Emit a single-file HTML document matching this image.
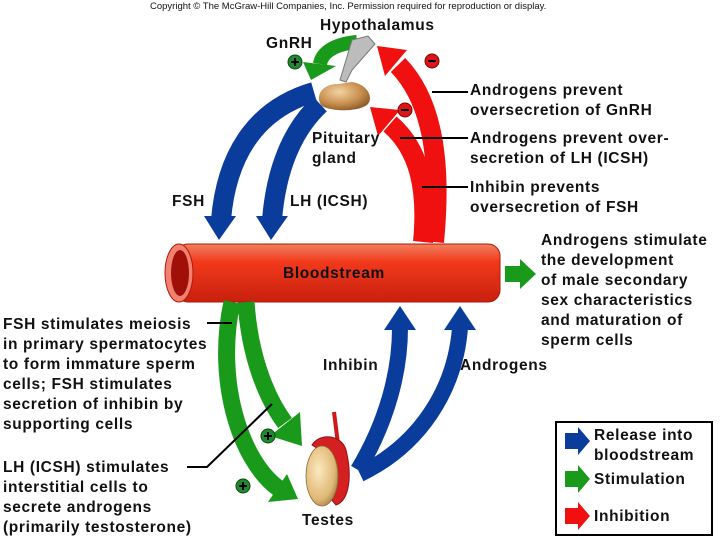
<!DOCTYPE html>
<html><head><meta charset="utf-8"><style>
html,body{margin:0;padding:0;background:#fff}
svg{display:block}
text{font-family:"Liberation Sans",Arial,sans-serif;font-weight:bold;font-size:15.5px;letter-spacing:0.65px;fill:#111}
</style></head><body>
<svg width="720" height="540" viewBox="0 0 720 540" xmlns="http://www.w3.org/2000/svg">
<defs>
<linearGradient id="bs" x1="0" y1="0" x2="0" y2="1">
<stop offset="0" stop-color="#f08060"/><stop offset="0.3" stop-color="#f23a1c"/><stop offset="1" stop-color="#c8200e"/>
</linearGradient>
<radialGradient id="pit" cx="0.4" cy="0.35" r="0.7">
<stop offset="0" stop-color="#f3d3a5"/><stop offset="0.6" stop-color="#c9904f"/><stop offset="1" stop-color="#8a5a2a"/>
</radialGradient>
<radialGradient id="tes" cx="0.4" cy="0.4" r="0.7">
<stop offset="0" stop-color="#fbeac0"/><stop offset="0.7" stop-color="#e0b876"/><stop offset="1" stop-color="#9c7440"/>
</radialGradient>
</defs>

<text x="150" y="9" style="font-weight:normal;font-size:9.5px;letter-spacing:0">Copyright © The McGraw-Hill Companies, Inc. Permission required for reproduction or display.</text>

<g fill="none" stroke="#f01010" stroke-width="20">
<path d="M434,242 C442,160 432,100 398,65"/>
<path d="M423,242 C428,190 420,150 390,124"/>
</g>
<polygon points="377,46 407,50 385,76" fill="#f01010"/>
<polygon points="370,107 400,110 378,136" fill="#f01010"/>

<path d="M357,42 C335,44 322,52 320,64" fill="none" stroke="#1a9a1a" stroke-width="14"/>
<polygon points="303,62 336,66 311,80" fill="#1a9a1a"/>

<path d="M352,40 L368,36 L375,44 L352,70 L346,82 L340,80 Z" fill="#bcbcbc" stroke="#777" stroke-width="1"/>
<path d="M338,84 C320,84 315,98 322,106 C332,112 360,112 368,104 C374,96 366,84 352,82 Z" fill="url(#pit)"/>

<g fill="none" stroke="#0a3c9c" stroke-width="20">
<path d="M314,92 C252,110 226,160 221,220"/>
<path d="M320,104 C292,130 276,170 272,220"/>
</g>
<polygon points="204,216 236,216 219,240" fill="#0a3c9c"/>
<polygon points="256,216 288,216 271,240" fill="#0a3c9c"/>

<rect x="176" y="244" width="324" height="58" rx="12" fill="url(#bs)" stroke="#b01808" stroke-width="1"/>
<ellipse cx="179" cy="273" rx="14" ry="29" fill="#f08070" stroke="#b01808"/>
<ellipse cx="180" cy="273" rx="9" ry="23" fill="#a01008"/>
<text x="283" y="278">Bloodstream</text>
<polygon points="505,266 520,266 520,259 536,274 520,289 520,282 505,282" fill="#1a9a1a"/>

<g fill="none" stroke="#1a9a1a" stroke-width="17">
<path d="M246,302 C250,360 268,400 285,423"/>
<path d="M232,302 C215,380 240,460 278,488"/>
</g>
<polygon points="300,412 270,436 302,446" fill="#1a9a1a"/>
<polygon points="287,474 268,502 298,499" fill="#1a9a1a"/>

<g fill="none" stroke="#0a3c9c" stroke-width="16">
<path d="M358,470 C388,420 400,370 400,328"/>
<path d="M360,474 C420,445 455,390 460,328"/>
</g>
<polygon points="384,330 416,330 400,306" fill="#0a3c9c"/>
<polygon points="444,330 476,330 460,306" fill="#0a3c9c"/>

<path d="M334,412 L340,460" stroke="#d01818" stroke-width="4"/>
<path d="M312,445 C320,432 342,435 346,450 C352,475 350,500 336,505 L330,498 C340,480 336,455 320,450 Z" fill="#d42020" stroke="#901010"/>
<ellipse cx="322" cy="476" rx="16" ry="30" fill="url(#tes)" stroke="#8a6a3a" stroke-width="0.8"/>

<g stroke="#0c4a0c" stroke-width="1">
<circle cx="295" cy="62" r="7" fill="#1f8a2f"/>
<circle cx="268" cy="436" r="7" fill="#1f8a2f"/>
<circle cx="243" cy="486" r="7" fill="#1f8a2f"/>
</g>
<g stroke="#000" stroke-width="2">
<path d="M291,62h8M295,58v8"/><path d="M264,436h8M268,432v8"/><path d="M239,486h8M243,482v8"/>
</g>
<circle cx="432" cy="61" r="7" fill="#d81818" stroke="#800"/>
<circle cx="405" cy="110" r="7" fill="#d81818" stroke="#800"/>
<path d="M428,61h8M401,110h8" stroke="#000" stroke-width="2"/>

<g stroke="#000" stroke-width="2" fill="none">
<path d="M432,92H468"/><path d="M400,138H468"/><path d="M422,187H468"/>
<path d="M207,323H232"/><path d="M187,467H207L272,404"/>
</g>

<text x="320" y="30">Hypothalamus</text>
<text x="266" y="48">GnRH</text>
<text x="312" y="143">Pituitary</text>
<text x="312" y="163">gland</text>
<text x="172" y="206">FSH</text>
<text x="290" y="206">LH (ICSH)</text>
<text x="470" y="95">Androgens prevent</text>
<text x="470" y="115">oversecretion of GnRH</text>
<text x="470" y="143">Androgens prevent over-</text>
<text x="470" y="163">secretion of LH (ICSH)</text>
<text x="470" y="192">Inhibin prevents</text>
<text x="470" y="212">oversecretion of FSH</text>

<text x="541" y="245">Androgens stimulate</text>
<text x="541" y="265">the development</text>
<text x="541" y="285">of male secondary</text>
<text x="541" y="305">sex characteristics</text>
<text x="541" y="325">and maturation of</text>
<text x="541" y="345">sperm cells</text>

<text x="323" y="370">Inhibin</text>
<text x="460" y="370">Androgens</text>
<text x="302" y="525">Testes</text>

<text x="3" y="329">FSH stimulates meiosis</text>
<text x="3" y="349">in primary spermatocytes</text>
<text x="3" y="369">to form immature sperm</text>
<text x="3" y="389">cells; FSH stimulates</text>
<text x="3" y="409">secretion of inhibin by</text>
<text x="3" y="429">supporting cells</text>
<text x="3" y="472">LH (ICSH) stimulates</text>
<text x="3" y="492">interstitial cells to</text>
<text x="3" y="512">secrete androgens</text>
<text x="3" y="532">(primarily testosterone)</text>

<rect x="556" y="422" width="156" height="113" fill="#fff" stroke="#000" stroke-width="2"/>
<polygon points="565,433 578,433 578,427 590,441 578,455 578,449 565,449" fill="#0a3c9c"/>
<polygon points="565,471 578,471 578,465 590,479 578,493 578,487 565,487" fill="#1a9a1a"/>
<polygon points="565,508 578,508 578,502 590,516 578,530 578,524 565,524" fill="#f01010"/>
<text x="594" y="440">Release into</text>
<text x="594" y="460">bloodstream</text>
<text x="594" y="484">Stimulation</text>
<text x="594" y="521">Inhibition</text>
</svg>
</body></html>
